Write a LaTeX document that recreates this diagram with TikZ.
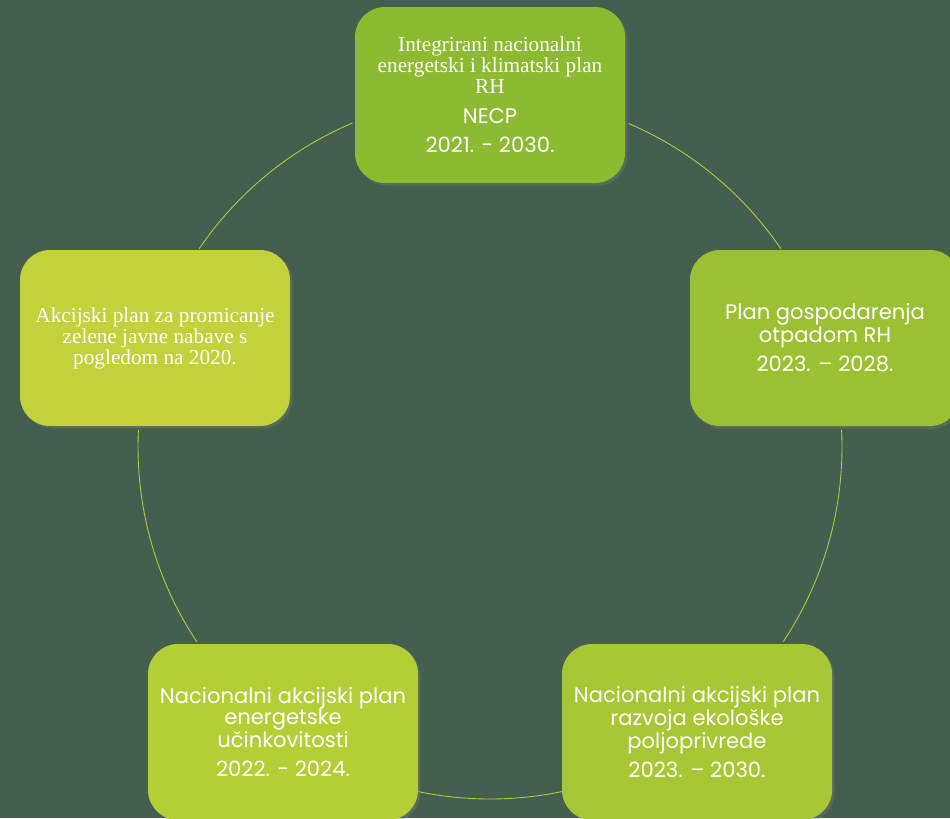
\documentclass[tikz,border=0pt]{standalone}
\usepackage{fontspec}
\setmainfont{Liberation Serif}
\newfontfamily\gothicfont{Poppins}
\usetikzlibrary{shadows}

\definecolor{bggreen}{HTML}{445F4F}
\definecolor{ringline}{HTML}{B3CB3B}
\definecolor{necpfill}{HTML}{8CBB31}
\definecolor{otpadfill}{HTML}{9BC133}
\definecolor{ekofill}{HTML}{A8C735}
\definecolor{energyfill}{HTML}{B4CE36}
\definecolor{nabavafill}{HTML}{C3D13A}

\newcommand{\serifsize}{\fontsize{12.1}{12.5}\selectfont}
\newcommand{\gothicsize}{\gothicfont\fontsize{12}{13.7}\selectfont}

\tikzset{
  planbox/.style={rounded corners=0.6cm, minimum width=5.4cm, minimum height=3.52cm,
    align=center, text=white, inner sep=2pt,
    drop shadow={opacity=0.35, shadow xshift=0.05cm, shadow yshift=-0.05cm}},
  ring/.style={draw=ringline, line width=0.5pt}
}

\begin{document}
\begin{tikzpicture}
\useasboundingbox[fill=bggreen] (0,0) rectangle (19,-16.36);
\coordinate (hub) at (9.8,-8.94);
%% ring between the boxes
\foreach \a/\b in {66.8/34.3, 113/145.7, 2.8/-33.6, 177.2/213.6, 258.1/281.9}
  \draw [ring] (hub) ++(\a:7.04) arc [start angle=\a, end angle=\b, radius=7.04];
%% plans
\node (necp) at (9.8,-1.9) [planbox, fill=necpfill]
  {\serifsize Integrirani nacionalni\\\serifsize energetski i klimatski plan\\\serifsize RH\\[5pt]
   \gothicsize NECP\\[4.5pt]\gothicsize 2021. - 2030.};
\node (otpad) at (16.5,-6.76) [planbox, fill=otpadfill]
  {\gothicsize Plan gospodarenja\\\gothicsize otpadom RH\\[4.5pt]\gothicsize 2023. – 2028.};
\node (eko) at (13.94,-14.64) [planbox, fill=ekofill]
  {\gothicsize Nacionalni akcijski plan\\\gothicsize razvoja ekološke\\\gothicsize poljoprivrede\\[4.5pt]
   \gothicsize 2023. – 2030.};
\node (energy) at (5.66,-14.64) [planbox, fill=energyfill]
  {\gothicsize Nacionalni akcijski plan\\\gothicsize energetske\\\gothicsize učinkovitosti\\[4.5pt]
   \gothicsize 2022. - 2024.};
\node (nabava) at (3.1,-6.76) [planbox, fill=nabavafill]
  {\serifsize Akcijski plan za promicanje\\\serifsize zelene javne nabave s\\\serifsize pogledom na 2020.};
\end{tikzpicture}
\end{document}
